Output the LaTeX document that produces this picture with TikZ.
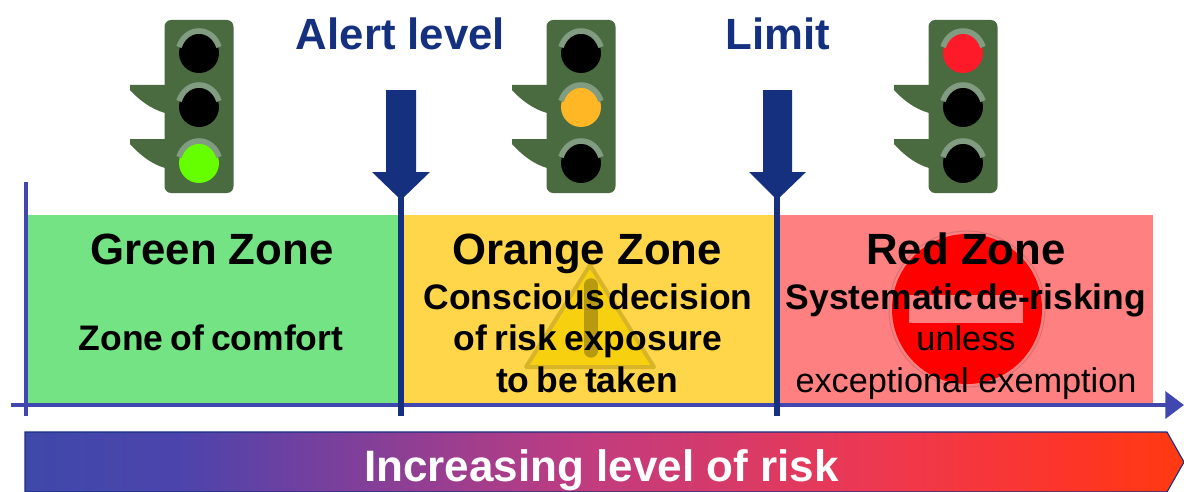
\documentclass[tikz,border=0pt]{standalone}
\usepackage{fontspec}
\setmainfont{Liberation Sans}
\usetikzlibrary{arrows.meta,calc}
\definecolor{navy}{HTML}{14307F}
\definecolor{axisblue}{HTML}{4048B0}
\definecolor{bodygreen}{HTML}{4A6B3F}
\definecolor{hilite}{HTML}{829C82}
\definecolor{zonegreen}{HTML}{73E384}
\definecolor{zoneorange}{HTML}{FFD54A}
\definecolor{zonered}{HTML}{FF8080}
\definecolor{riska}{HTML}{3F48AA}
\definecolor{riskb}{HTML}{4C44AC}
\definecolor{riskc}{HTML}{7040A0}
\definecolor{riskd}{HTML}{C03C80}
\definecolor{riske}{HTML}{EE3850}
\definecolor{riskf}{HTML}{FD3526}
\definecolor{riskg}{HTML}{FF3A10}
\definecolor{lampgreen}{HTML}{66FF00}
\definecolor{lampamber}{HTML}{FFB726}
\definecolor{lampred}{HTML}{FF1A2A}
\definecolor{warnfill}{HTML}{F7D010}
\definecolor{warnedge}{HTML}{D8B428}
\definecolor{warnmark}{HTML}{B89A10}
\definecolor{ringred}{HTML}{D87070}
\pgfdeclarehorizontalshading{riskshade}{100bp}{
  color(0bp)=(riska);
  color(25bp)=(riska);
  color(31.7bp)=(riskb);
  color(36.9bp)=(riskc);
  color(49bp)=(riskd);
  color(61.9bp)=(riske);
  color(70.5bp)=(riskf);
  color(75bp)=(riskg);
  color(100bp)=(riskg)}
\newcommand{\wordgap}[1]{\spaceskip=#1em\relax}
\tikzset{
  x=0.75pt,y=-0.75pt,
  zonebox/.style={anchor=north west,inner sep=0pt,outer sep=0pt},
  title/.style={anchor=base,inner sep=0pt,font=\fontsize{32.8}{36}\selectfont\bfseries,text=black},
  bodytext/.style={anchor=base,inner sep=0pt,font=\fontsize{26.6}{30}\selectfont\bfseries,text=black},
  plaintext/.style={anchor=base,inner sep=0pt,font=\fontsize{25.7}{30}\selectfont,text=black},
  headtext/.style={anchor=base,inner sep=0pt,font=\fontsize{32.8}{36}\selectfont\bfseries,text=navy},
  stem/.style={draw=navy,line width=5pt},
  bigarrow/.style={fill=navy,draw=none},
  axisline/.style={draw=axisblue,line width=3.6pt},
}
\newcommand{\tlight}[4]{%
  \begin{scope}[shift={(#1,0)}]
    \fill[bodygreen] (-34,139) -- (-69,139) -- (-69,144) .. controls (-60,154) and (-48,164) .. (-34,168) -- cycle;
    \fill[bodygreen] (-34,85) -- (-69,85) -- (-69,90) .. controls (-60,100) and (-48,109) .. (-34,113) -- cycle;
    \fill[bodygreen,rounded corners=5pt] (-34.5,20) rectangle (34.5,193);
    \foreach \cy/\cc in {53/#2,107/#3,163/#4}{
      \fill[\cc] (0,\cy) circle[radius=20];
      \draw[hilite,line width=4.2pt] (-20,\cy-6) .. controls (-13,\cy-27.3) and (13,\cy-27.3) .. (20,\cy-6);
    }
  \end{scope}}
\begin{document}
\begin{tikzpicture}
\useasboundingbox (0,0) rectangle (1184,492);
% zones
\node[zonebox,fill=zonegreen,minimum width=279pt,minimum height=141pt] (greenzone) at (28,215) {};
\node[zonebox,fill=zoneorange,minimum width=277.5pt,minimum height=141pt] (orangezone) at (404,215) {};
\node[zonebox,fill=zonered,minimum width=279.75pt,minimum height=141pt] (redzone) at (780,215) {};
% warning triangle
\fill[draw=warnedge,fill=warnfill,line width=3pt,line join=round] (590,265) -- (654,367) -- (526,367) -- cycle;
\draw[warnmark,line width=10pt,line cap=round] (591,285) -- (591,351);
% no entry
\draw[ringred,line width=.7pt] (967,309) circle[radius=78];
\fill[red] (967,309) circle[radius=75];
\fill[zonered] (909,295) rectangle (1023,323);
% lights
\tlight{199}{black}{black}{lampgreen}
\tlight{581}{black}{lampamber}{black}
\tlight{963}{lampred}{black}{black}
% axes
\coordinate (axL) at (11,405);
\coordinate (axR) at (1184,405);
\coordinate (vTop) at (26,182);
\coordinate (vBot) at (26,416);
\draw[axisline] (vTop) -- (vBot);
\draw[axisline,-{Triangle[length=14pt,width=20pt]}] (axL) -- (axR);
% alert arrows
\coordinate (alertA) at (401,195);
\coordinate (alertB) at (401,416);
\coordinate (limitA) at (777,195);
\coordinate (limitB) at (777,416);
\draw[stem] (alertA) -- (alertB);
\draw[stem] (limitA) -- (limitB);
\fill[bigarrow] (386,90) -- (416,90) -- (416,172) -- (430,172) -- (401,200) -- (372,172) -- (386,172) -- cycle;
\fill[bigarrow] (763,90) -- (792,90) -- (792,172) -- (806,172) -- (777,200) -- (749,172) -- (763,172) -- cycle;
% labels
\node[headtext] (alertlabel) at (400.5,50) {Alert level};
\node[headtext] (limitlabel) at (778,50) {Limit};
\node[title] (t1) at (212,264) {Green Zone};
\node[title] (t2) at (587,264) {Orange Zone};
\node[title] (t3) at (966,264) {Red Zone};
\node[bodytext] (g1) at (211,350) {\wordgap{.2}Zone of comfort};
\node[bodytext] (o1) at (588,309) {\wordgap{.1}Conscious decision};
\node[bodytext] (o2) at (588,350) {\wordgap{.2}of risk exposure};
\node[bodytext] (o3) at (587,392) {\wordgap{.2}to be taken};
\node[bodytext] (r1) at (966,309) {\wordgap{.1}Systematic de-risking};
\node[plaintext] (r2) at (966,350) {unless};
\node[plaintext] (r3) at (966,392) {exceptional exemption};
% risk band
\path[draw=navy,line width=.8pt,shading=riskshade,shading angle=0] (25,432) -- (1167,432) -- (1184,462) -- (1167,492) -- (25,492) -- cycle;
\node[anchor=base,inner sep=0pt,text=white,font=\fontsize{33}{36}\selectfont\bfseries] (risk) at (601.5,481) {Increasing level of risk};
\end{tikzpicture}
\end{document}
